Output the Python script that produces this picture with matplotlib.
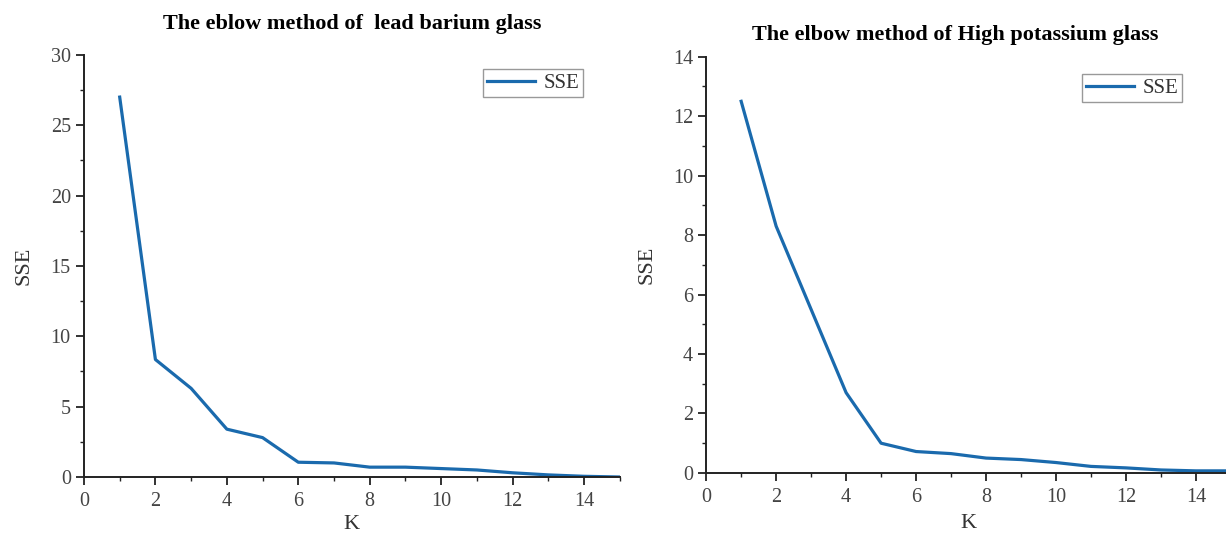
import matplotlib.pyplot as plt
from matplotlib.ticker import MultipleLocator

plt.rcParams['font.family'] = ['Liberation Serif', 'DejaVu Serif']

k = list(range(1, 16))
sse_lead = [27.0, 8.35, 6.3, 3.4, 2.8, 1.05, 1.0, 0.7, 0.7, 0.6, 0.5, 0.3, 0.15, 0.05, 0.0]
sse_potassium = [12.5, 8.3, 5.5, 2.7, 1.0, 0.72, 0.65, 0.5, 0.45, 0.35, 0.22, 0.17, 0.1, 0.07, 0.07]

titles = ["The eblow method of  lead barium glass", "The elbow method of High potassium glass"]
line_color = "#1a6aad"

fig = plt.figure(figsize=(12.26, 5.35), dpi=100)
ax1 = fig.add_axes([0.0685, 0.1084, 0.437, 0.789])
ax2 = fig.add_axes([0.576, 0.116, 0.428, 0.778])

setups = [
    (ax1, sse_lead, titles[0], 30, 5, 2.5, (0.932, 0.966), 19, 0.5, 3),
    (ax2, sse_potassium, titles[1], 14, 2, 1, (0.907, 0.958), 12, 0.475, 5),
]

for ax, vals, title, ymax, ymaj, ymin, leg_anchor, tpad, tx, xpad in setups:
    ax.plot(k, vals, color=line_color, lw=2.3, label="SSE", solid_joinstyle="round")
    ax.set_xlim(0, 15)
    ax.set_ylim(0, ymax)
    ax.xaxis.set_major_locator(MultipleLocator(2))
    ax.xaxis.set_minor_locator(MultipleLocator(1))
    ax.yaxis.set_major_locator(MultipleLocator(ymaj))
    ax.yaxis.set_minor_locator(MultipleLocator(ymin))
    for s in ["top", "right"]:
        ax.spines[s].set_visible(False)
    for s in ["left", "bottom"]:
        ax.spines[s].set_linewidth(1.4)
        ax.spines[s].set_color("#222222")
    ax.tick_params(which="major", direction="out", length=6, width=1.3, color="#222222",
                   labelsize=14.5, labelcolor="#444444")
    ax.tick_params(axis="x", which="major", pad=5)
    ax.tick_params(which="minor", direction="out", length=3, width=1.0, color="#222222")
    ax.set_xlabel("K", fontsize=16, color="#333333", labelpad=xpad)
    ax.set_ylabel("SSE", fontsize=16, color="#333333", labelpad=12)
    ax.set_title(title, fontsize=16, fontweight="bold", pad=tpad, x=tx)
    leg = ax.legend(loc="upper right", bbox_to_anchor=leg_anchor, fontsize=15, fancybox=False,
                    edgecolor="#999999", handlelength=2.3, handletextpad=0.4,
                    borderpad=0.2, borderaxespad=0, framealpha=1)
    leg.get_frame().set_linewidth(1.0)
    for t in leg.get_texts():
        t.set_color("#333333")

fig.savefig("out.png", dpi=100)
